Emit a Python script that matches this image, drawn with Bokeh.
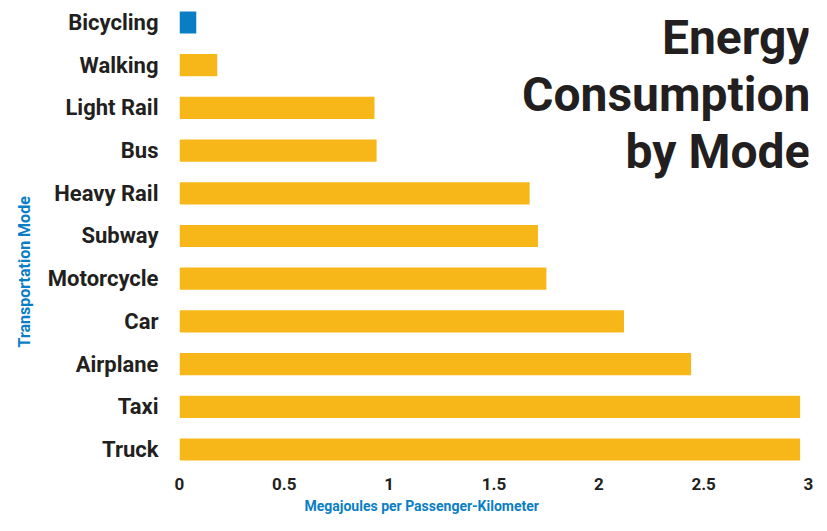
from bokeh.plotting import figure
from bokeh.models import Range1d, FixedTicker, Label, Title
from bokeh.embed import file_html
from bokeh.resources import INLINE

# ---- data ----
modes = ["Bicycling", "Walking", "Light Rail", "Bus", "Heavy Rail", "Subway",
         "Motorcycle", "Car", "Airplane", "Taxi", "Truck"]
energy = [0.08, 0.18, 0.93, 0.94, 1.67, 1.71, 1.75, 2.12, 2.44, 2.96, 2.96]
x_ticks = [0, 0.5, 1, 1.5, 2, 2.5, 3]
x_tick_labels = ["0", "0.5", "1", "1.5", "2", "2.5", "3"]
title_lines = ["Energy", "Consumption", "by Mode"]
x_title = "Megajoules per Passenger-Kilometer"
y_title = "Transportation Mode"
highlight = "Bicycling"

# ---- styles ----
YELLOW = "#F7B718"
BLUE = "#0A7EC5"
DARK = "#231F20"
FONT = "Roboto"

W, H = 819, 523
FL, FR, FT, FB = 179, 808, 0, 470   # frame edges in canvas px
n = len(modes)
ypos = [n - 1 - i for i in range(n)]
colors = [BLUE if m == highlight else YELLOW for m in modes]

y0, y1 = -0.492, 10.515
x0, x1 = 0, 3

p = figure(width=W, height=H, output_backend="svg", toolbar_location=None,
           x_range=Range1d(x0, x1), y_range=Range1d(y0, y1),
           min_border_left=FL, min_border_right=W - FR,
           min_border_top=FT, min_border_bottom=H - FB)
p.outline_line_color = None
p.grid.grid_line_color = None
p.background_fill_color = "white"
p.border_fill_color = "white"

p.hbar(y=ypos, right=energy, left=0, height=0.52, color=colors, line_color=None)

for ax in (p.xaxis, p.yaxis):
    ax.axis_line_color = None
    ax.major_tick_line_color = None
    ax.minor_tick_line_color = None
    ax.major_tick_out = 0
    ax.major_tick_in = 0
    ax.minor_tick_out = 0
    ax.major_label_text_font = FONT
    ax.major_label_text_font_style = "bold"
    ax.major_label_text_color = DARK

p.xaxis.ticker = FixedTicker(ticks=x_ticks)
p.xaxis.major_label_overrides = {t: l for t, l in zip(x_ticks, x_tick_labels)}
p.xaxis.major_label_text_font_size = "17px"
p.xaxis.major_label_standoff = 7

p.yaxis.ticker = FixedTicker(ticks=ypos)
p.yaxis.major_label_overrides = {y: m for y, m in zip(ypos, modes)}
p.yaxis.major_label_text_font_size = "22px"
p.yaxis.major_label_standoff = 21


def dx(px):
    return x0 + (px - FL) * (x1 - x0) / (FR - FL)


def dy(py):
    return y1 - (py - FT) * (y1 - y0) / (FB - FT)


# title (right aligned)
for line, base in zip(title_lines, [37, 94, 151]):
    p.add_layout(Label(x=dx(810), y=dy(base), text=line, text_font=FONT,
                       text_font_style="bold", text_font_size="48px",
                       text_color=DARK, text_align="right",
                       text_baseline="alphabetic"))

# axis titles as side-panel titles
p.add_layout(Title(text=x_title, text_font=FONT, text_font_style="bold",
                   text_font_size="14px", text_color=BLUE, align="left",
                   offset=125, standoff=6), "below")
p.add_layout(Title(text=y_title, text_font=FONT, text_font_style="bold",
                   text_font_size="16px", text_color=BLUE, align="left",
                   offset=123, standoff=22), "left")

open("out.html", "w").write(file_html(p, INLINE))
